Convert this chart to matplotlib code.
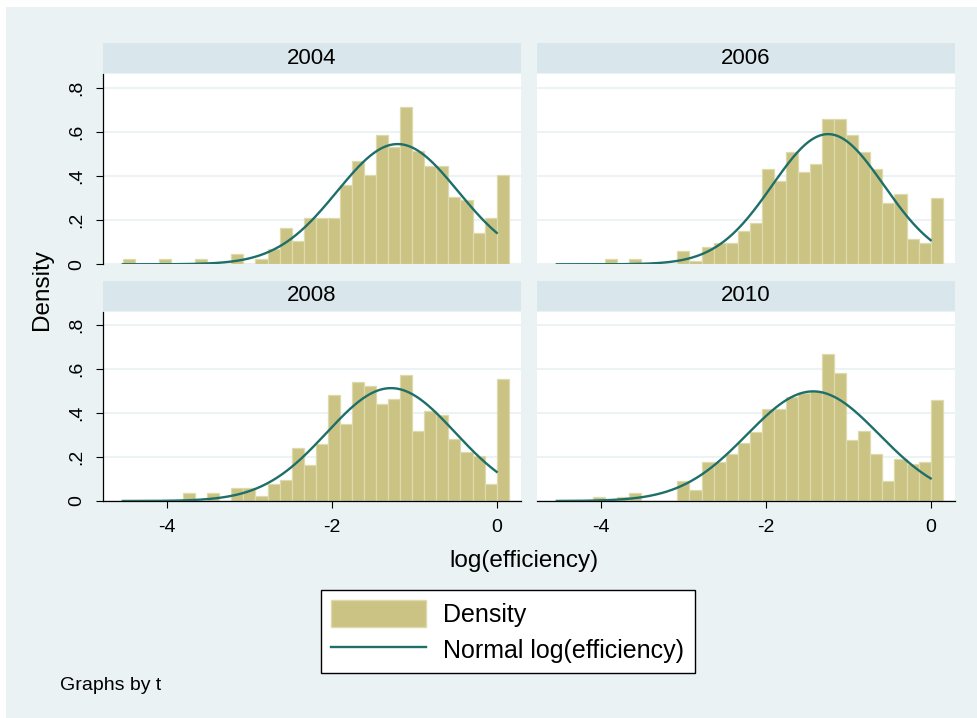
import numpy as np
import matplotlib
matplotlib.use('Agg')
import matplotlib.pyplot as plt
from matplotlib.patches import Rectangle, Patch
from matplotlib.lines import Line2D

plt.rcParams['font.family'] = ['Liberation Sans', 'DejaVu Sans']

# ---- data ----
years = ['2004', '2006', '2008', '2010']
bin_start = -4.53          # left edge of the first bin (minimum of the data)
n_bins = 32

dens_2004 = [0.023, 0, 0, 0.023, 0, 0, 0.023, 0, 0, 0.045, 0, 0.023,
             0.068, 0.165, 0.105, 0.208, 0.208, 0.208, 0.361, 0.466, 0.406, 0.586,
             0.530, 0.710, 0.511, 0.444, 0.444, 0.304, 0.289, 0.143, 0.208, 0.406]
dens_2006 = [0, 0, 0, 0, 0.023, 0, 0.023, 0, 0, 0, 0.060, 0.015,
             0.078, 0.098, 0.098, 0.150, 0.188, 0.433, 0.379, 0.508, 0.418, 0.454,
             0.659, 0.659, 0.583, 0.508, 0.433, 0.278, 0.319, 0.113, 0.095, 0.301]
dens_2008 = [0, 0, 0, 0, 0, 0.037, 0, 0.037, 0, 0.057, 0.057, 0.022,
             0.075, 0.095, 0.242, 0.163, 0.257, 0.480, 0.350, 0.540, 0.521, 0.442,
             0.465, 0.574, 0.318, 0.409, 0.389, 0.281, 0.223, 0.205, 0.075, 0.555]
dens_2010 = [0, 0, 0, 0.019, 0, 0.019, 0.037, 0, 0, 0, 0.090, 0.052,
             0.177, 0.177, 0.214, 0.262, 0.315, 0.419, 0.419, 0.472, 0.491, 0.499,
             0.667, 0.581, 0.277, 0.316, 0.214, 0.090, 0.192, 0.166, 0.177, 0.457]
densities = [dens_2004, dens_2006, dens_2008, dens_2010]

# fitted normal for each year
norm_mean = [-1.200, -1.243, -1.280, -1.424]
norm_sd = [0.733, 0.677, 0.778, 0.801]

y_ticks = [0, 0.2, 0.4, 0.6, 0.8]
y_ticklabels = ['0', '.2', '.4', '.6', '.8']
x_ticks = [-4, -2, 0]
x_ticklabels = ['-4', '-2', '0']

# ---- style ----
bg_color = '#EAF2F3'
strip_color = '#D9E6EB'
bar_fill = '#CAC383'
bar_edge = '#DEDAAB'
line_color = '#1E6E69'

W, H = 978, 718


def fx(px):
    return px / W


def fy(py):
    return 1 - py / H


fig = plt.figure(figsize=(W / 100, H / 100), dpi=100)
fig.patches.append(Rectangle((fx(6), 0), 1 - fx(6), fy(7), transform=fig.transFigure,
                             facecolor=bg_color, edgecolor='none', zorder=-10))

col_x = [103, 537]
col_w = 418
row_plot = [(74.3, 264.3), (311.7, 501)]
row_strip = [(42.7, 73.3), (280.7, 310.7)]

bin_width = -bin_start / (n_bins - 1)
edges = bin_start + bin_width * np.arange(n_bins)

for k, year in enumerate(years):
    r, c = divmod(k, 2)
    top, bot = row_plot[r]
    ax = fig.add_axes([fx(col_x[c]), fy(bot), col_w / W, (bot - top) / H])

    ax.bar(edges, densities[k], width=bin_width, align='edge',
           color=bar_fill, edgecolor=bar_edge, linewidth=0.9, zorder=2)
    xs = np.linspace(bin_start, 0, 300)
    pdf = np.exp(-0.5 * ((xs - norm_mean[k]) / norm_sd[k]) ** 2) / (norm_sd[k] * np.sqrt(2 * np.pi))
    ax.plot(xs, pdf, color=line_color, linewidth=1.7, zorder=3)

    ax.set_xlim(-4.77, 0.295)
    ax.set_ylim(0, 0.86)
    ax.set_yticks(y_ticks)
    ax.set_xticks(x_ticks)
    ax.yaxis.grid(True, color=bg_color, linewidth=1.3, zorder=0)
    ax.set_axisbelow(True)
    for s in ax.spines.values():
        s.set_visible(False)

    if c == 0:
        ax.spines['left'].set_visible(True)
        ax.spines['left'].set_linewidth(0.9)
        ax.set_yticklabels(y_ticklabels, rotation=90, va='center', fontsize=14)
        ax.tick_params(axis='y', length=5, width=0.8, pad=8)
    else:
        ax.tick_params(axis='y', left=False, labelleft=False)

    if r == 1:
        ax.spines['bottom'].set_visible(True)
        ax.spines['bottom'].set_linewidth(0.9)
        ax.set_xticklabels(x_ticklabels, fontsize=14)
        ax.tick_params(axis='x', length=5, width=0.8, pad=8)
    else:
        ax.tick_params(axis='x', bottom=False, labelbottom=False)

    # strip header with the year
    s_top, s_bot = row_strip[r]
    fig.patches.append(Rectangle((fx(col_x[c]), fy(s_bot)), col_w / W, (s_bot - s_top) / H,
                                 transform=fig.transFigure, facecolor=strip_color,
                                 edgecolor='none', zorder=-5))
    fig.text(fx(col_x[c] + col_w / 2), fy((s_top + s_bot) / 2), year,
             ha='center', va='center', fontsize=16)

fig.text(fx(42), fy(290), 'Density', rotation=90, ha='center', va='center', fontsize=17.5)
fig.text(fx(524), fy(561), 'log(efficiency)', ha='center', va='center', fontsize=17.5)
fig.text(fx(60), fy(685), 'Graphs by t', ha='left', va='center', fontsize=14)

handles = [Patch(facecolor=bar_fill, edgecolor=bar_edge, linewidth=1),
           Line2D([], [], color=line_color, linewidth=1.7)]
leg = fig.legend(handles, ['Density', 'Normal log(efficiency)'],
                 loc='upper left', bbox_to_anchor=(fx(321), fy(590)),
                 fontsize=18, frameon=True, fancybox=False, framealpha=1,
                 edgecolor='black', handlelength=3.8, handleheight=1.3,
                 borderaxespad=0, borderpad=0.4, labelspacing=0.35, handletextpad=0.7)
leg.get_frame().set_linewidth(1.0)

fig.savefig('out.png', dpi=100)
